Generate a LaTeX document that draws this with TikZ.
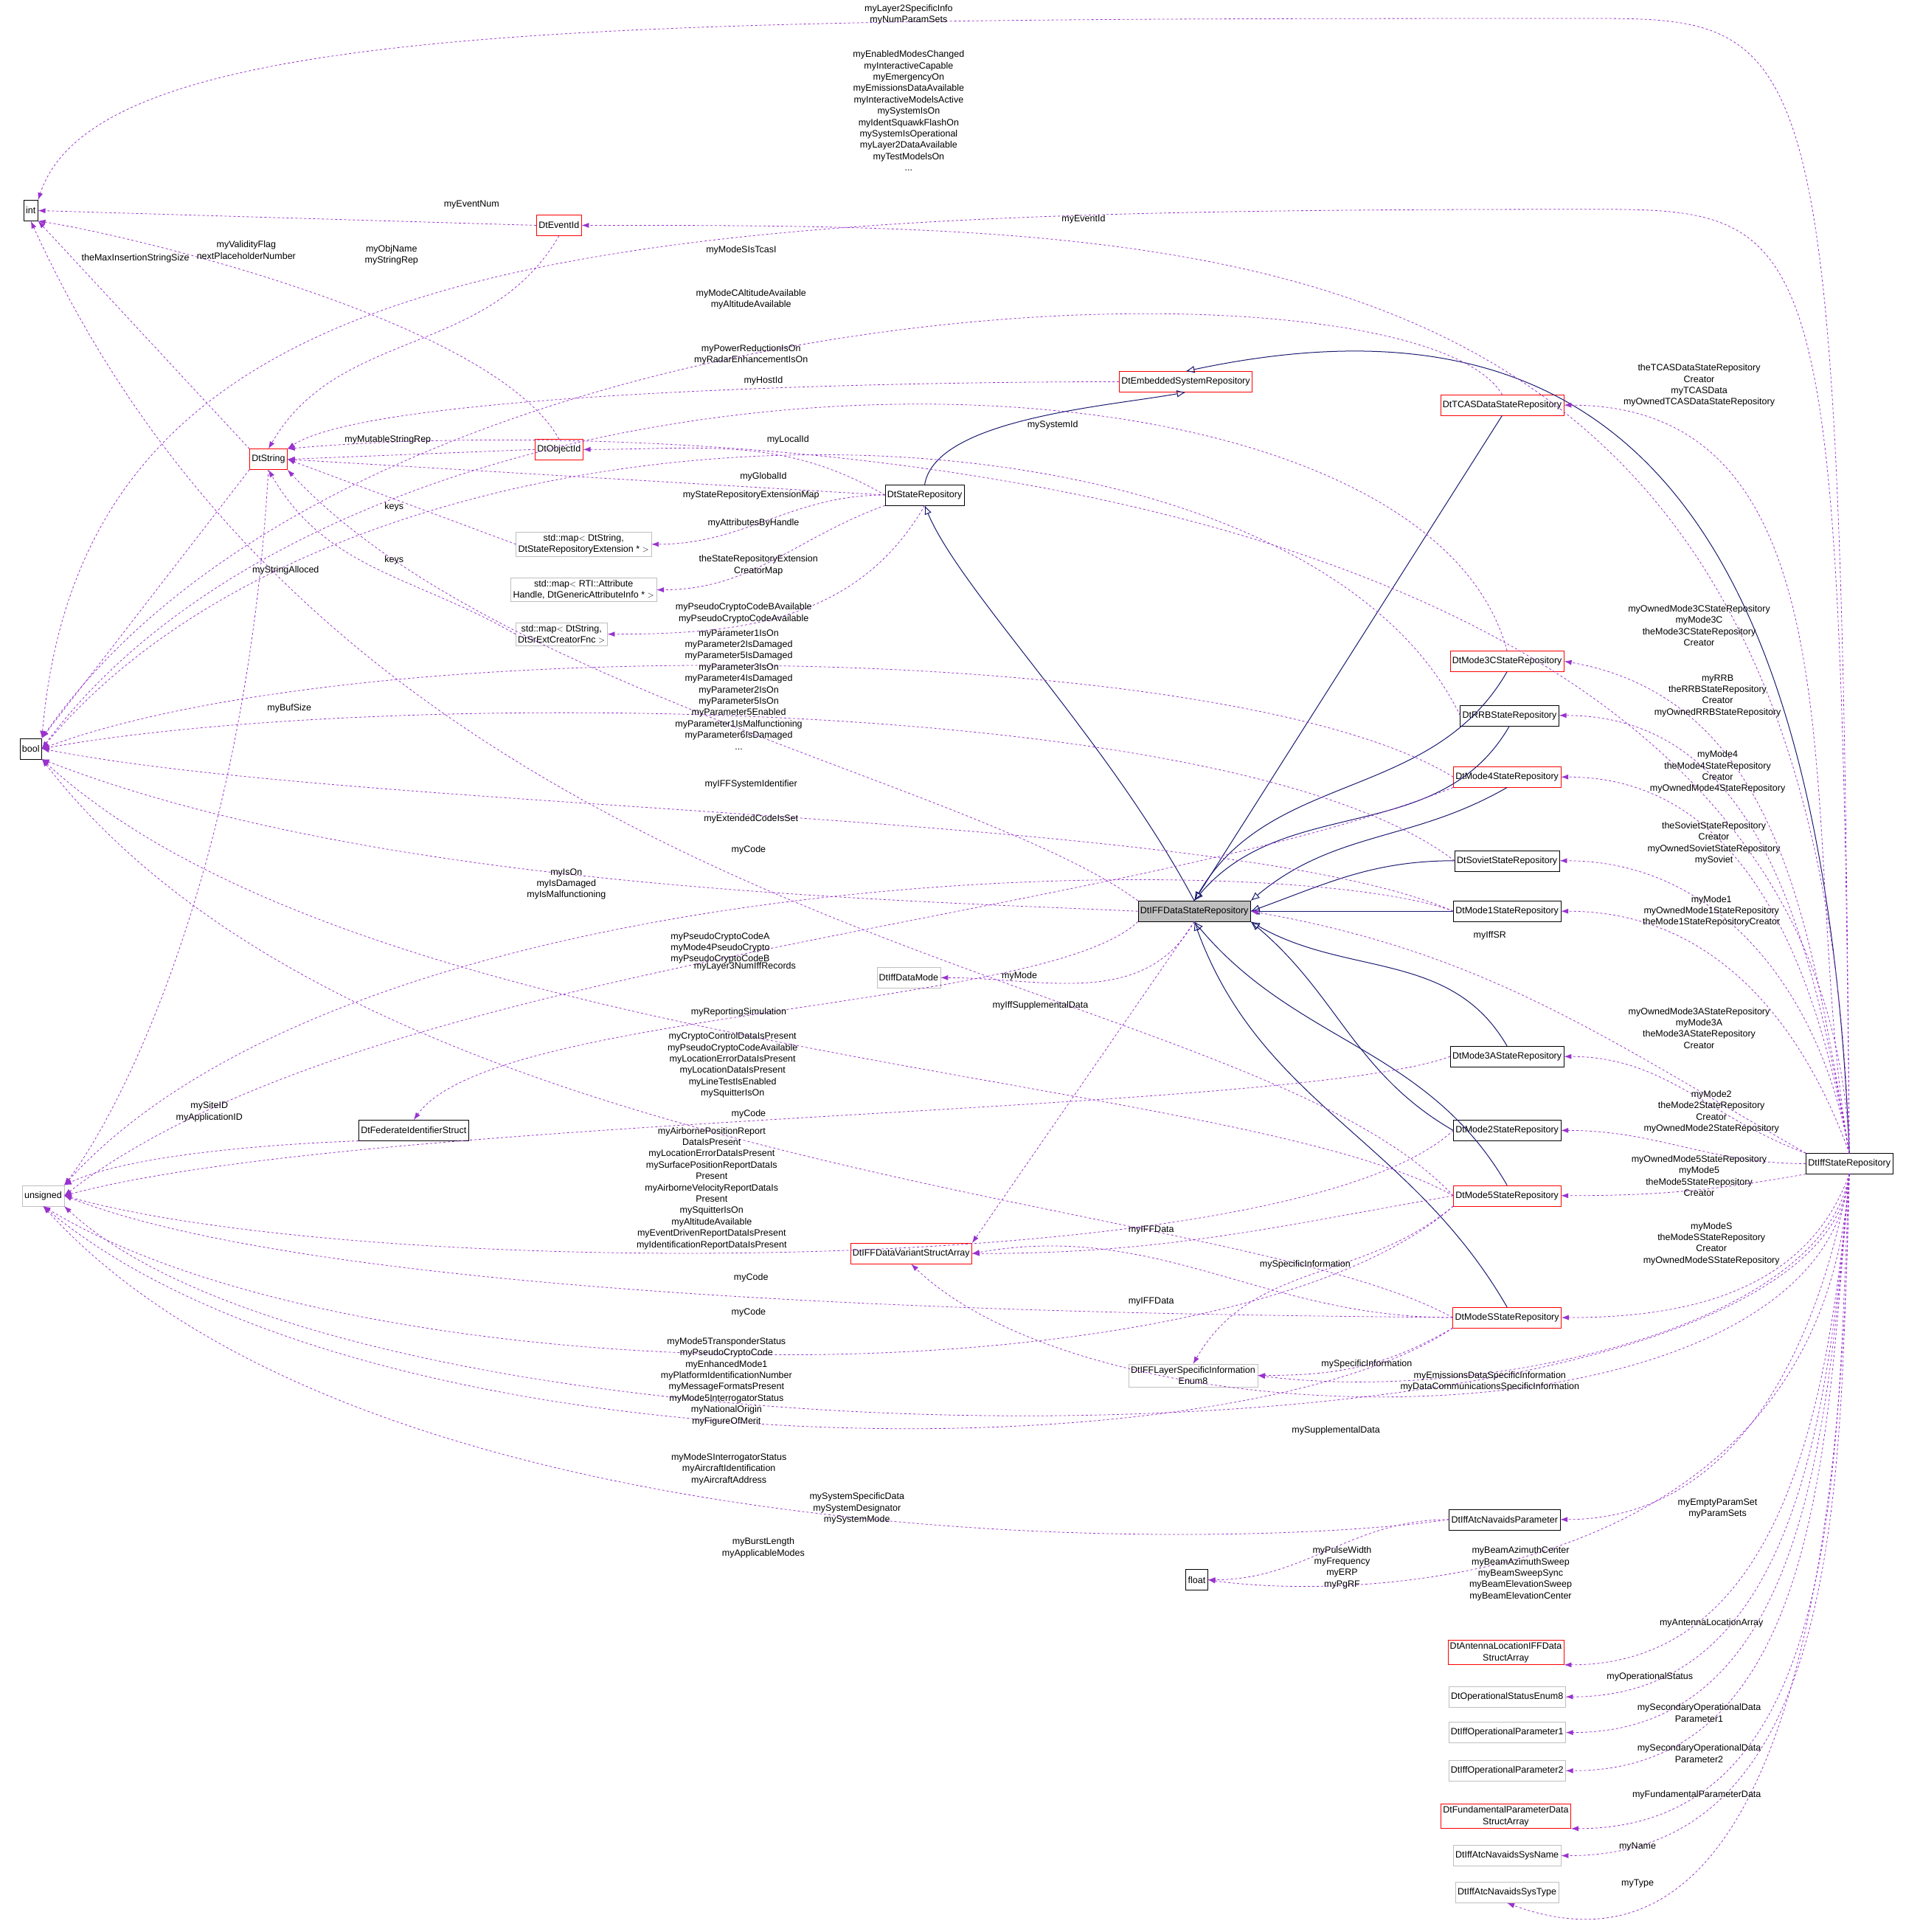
\documentclass[tikz,border=0pt]{standalone}
\usepackage{fontspec}
\setmainfont{Liberation Sans}
\usetikzlibrary{arrows.meta}
\definecolor{dep}{HTML}{9A32CD}
\definecolor{inh}{HTML}{191970}
\definecolor{gb}{HTML}{BFBFBF}
\newcommand\lab[3]{\node[lbl] (#1) at (#2) {#3};}
\begin{document}
\begin{tikzpicture}[x=1.669pt,y=-1.669pt,
  every node/.style={font=\fontsize{12.5}{15.4}\selectfont},
  box/.style={draw=black,fill=white,inner sep=3pt,minimum height=28pt,align=center},
  rbox/.style={box,draw=red},
  gbox/.style={box,draw=gb},
  lbl/.style={align=center,inner sep=0pt},
  dp/.style={draw=dep,dashed,line width=0.8pt,-{Latex[length=10pt,width=7pt]}},
  ih/.style={draw=inh,line width=1pt,-{Latex[open,length=12pt,width=10pt]}}]
\useasboundingbox (0,0) rectangle (1548,1569);
% nodes
\node[box] (int) at (25,171) {int};
\node[box] (bool) at (25,608) {bool};
\node[gbox] (uns) at (35,971) {unsigned};
\node[box] (float) at (972,1283) {float};
\node[rbox] (str) at (218,373) {DtString};
\node[rbox] (evt) at (454,183) {DtEventId};
\node[rbox] (oid) at (454,365) {DtObjectId};
\node[rbox] (emb) at (963,310) {DtEmbeddedSystemRepository};
\node[box] (sr) at (751,402) {DtStateRepository};
\node[gbox] (m1) at (474,442) {std::map$<$ DtString,\\DtStateRepositoryExtension * $>$};
\node[gbox] (m2) at (474,479) {std::map$<$ RTI::Attribute\\Handle, DtGenericAttributeInfo * $>$};
\node[gbox] (m3) at (456,515) {std::map$<$ DtString,\\DtSrExtCreatorFnc $>$};
\node[rbox] (tcas) at (1220,329) {DtTCASDataStateRepository};
\node[rbox] (m3c) at (1224,537) {DtMode3CStateRepository};
\node[box] (rrb) at (1226,581) {DtRRBStateRepository};
\node[rbox] (m4) at (1224,631) {DtMode4StateRepository};
\node[box] (sov) at (1224,699) {DtSovietStateRepository};
\node[box] (mo1) at (1224,740) {DtMode1StateRepository};
\node[box,fill=gb] (ifd) at (970,740) {DtIFFDataStateRepository};
\node[gbox] (idm) at (738,794) {DtIffDataMode};
\node[box] (m3a) at (1224,858) {DtMode3AStateRepository};
\node[box] (mo2) at (1224,918) {DtMode2StateRepository};
\node[rbox] (m5) at (1224,971) {DtMode5StateRepository};
\node[rbox] (ms) at (1224,1070) {DtModeSStateRepository};
\node[rbox] (var) at (740,1018) {DtIFFDataVariantStructArray};
\node[box] (fed) at (336,918) {DtFederateIdentifierStruct};
\node[gbox] (lay) at (969,1117) {DtIFFLayerSpecificInformation\\Enum8};
\node[box] (iff) at (1502,945) {DtIffStateRepository};
\node[box] (atc) at (1222,1234) {DtIffAtcNavaidsParameter};
\node[rbox] (ant) at (1223,1342) {DtAntennaLocationIFFData\\StructArray};
\node[gbox] (ops) at (1224,1378) {DtOperationalStatusEnum8};
\node[gbox] (op1) at (1224,1407) {DtIffOperationalParameter1};
\node[gbox] (op2) at (1224,1438) {DtIffOperationalParameter2};
\node[rbox] (fpd) at (1223,1475) {DtFundamentalParameterData\\StructArray};
\node[gbox] (sn) at (1224,1507) {DtIffAtcNavaidsSysName};
\node[gbox] (st) at (1224,1537) {DtIffAtcNavaidsSysType};
% inheritance
\draw[ih] (iff.north) .. controls (1480,400) and (1300,230) .. (emb.north);
\draw[ih] (sr.north) .. controls (760,340) and (900,330) .. (emb.south);
\draw[ih] (ifd.north) .. controls (900,600) and (780,480) .. (sr.south);
\draw[ih] (tcas.south) -- (ifd.north);
\draw[ih] (m3c.south) to[out=-120,in=60] (ifd.north);
\draw[ih] (rrb.south) to[out=-120,in=50] (ifd.north);
\draw[ih] (m4.south) to[out=-150,in=40] (ifd.north east);
\draw[ih] (sov.west) to[out=180,in=20] (ifd.east);
\draw[ih] (mo1.west) -- (ifd.east);
\draw[ih] (m3a.north) to[out=120,in=-30] (ifd.south east);
\draw[ih] (mo2.west) to[out=150,in=-40] (ifd.south east);
\draw[ih] (m5.north) to[out=120,in=-50] (ifd.south);
\draw[ih] (ms.north) to[out=120,in=-70] (ifd.south);
% deps from iff
\draw[dp] (iff.north) .. controls (1495,40) and (1480,15) .. (1300,15) .. controls (500,15) and (80,15) .. (int.north east);
\draw[dp] (iff.north) .. controls (1495,190) and (1480,170) .. (1300,170) .. controls (500,170) and (70,190) .. (bool.north east);
\draw[dp] (iff.north) .. controls (1480,180) and (1000,183) .. (evt.east);
\draw[dp] (iff.north) .. controls (1480,350) and (500,340) .. (str.north east);
\draw[dp] (iff.north) to[out=100,in=0] (tcas.east);
\draw[dp] (iff.north) to[out=100,in=-10] (m3c.east);
\draw[dp] (iff.north) to[out=100,in=0] (rrb.east);
\draw[dp] (iff.north) to[out=100,in=0] (m4.east);
\draw[dp] (iff.north) to[out=100,in=0] (sov.east);
\draw[dp] (iff.north) to[out=110,in=0] (mo1.east);
\draw[dp] (iff.north west) to[out=150,in=-10] (ifd.east);
\draw[dp] (iff.north west) to[out=160,in=0] (m3a.east);
\draw[dp] (iff.west) to[out=180,in=0] (mo2.east);
\draw[dp] (iff.south west) to[out=190,in=0] (m5.east);
\draw[dp] (iff.south) to[out=-110,in=0] (ms.east);
\draw[dp] (iff.south) .. controls (1480,1080) and (1200,1140) .. (lay.east);
\draw[dp] (iff.south) .. controls (1480,1180) and (900,1180) .. (var.south);
\draw[dp] (iff.south) .. controls (1480,1210) and (300,1210) .. (uns.south east);
\draw[dp] (iff.south) to[out=-100,in=0] (atc.east);
\draw[dp] (iff.south) .. controls (1480,1290) and (1100,1300) .. (float.east);
\draw[dp] (iff.south) to[out=-95,in=0] (ant.south east);
\draw[dp] (iff.south) to[out=-95,in=0] (ops.east);
\draw[dp] (iff.south) to[out=-95,in=0] (op1.east);
\draw[dp] (iff.south) to[out=-95,in=0] (op2.east);
\draw[dp] (iff.south) to[out=-93,in=0] (fpd.south east);
\draw[dp] (iff.south) to[out=-92,in=0] (sn.east);
\draw[dp] (iff.south) to[out=-91,in=-20] (st.south);
% other deps
\draw[dp] (evt.west) -- (int.east);
\draw[dp] (evt.south) to[out=-120,in=60] (str.north);
\draw[dp] (oid.north) .. controls (400,260) and (100,190) .. (int.south east);
\draw[dp] (tcas.north) .. controls (1150,200) and (300,220) .. (bool.north east);
\draw[dp] (oid.west) -- (str.east);
\draw[dp] (m3c.north) .. controls (1150,250) and (300,250) .. (bool.east);
\draw[dp] (rrb.west) .. controls (1050,300) and (300,290) .. (bool.east);
\draw[dp] (emb.west) .. controls (700,310) and (300,320) .. (str.north east);
\draw[dp] (sr.west) to[out=150,in=0] (oid.east);
\draw[dp] (sr.west) -- (str.east);
\draw[dp] (sr.west) to[out=180,in=0] (m1.east);
\draw[dp] (sr.south west) to[out=200,in=0] (m2.east);
\draw[dp] (sr.south) to[out=-120,in=0] (m3.east);
\draw[dp] (m1.west) -- (str.east);
\draw[dp] (m3.west) to[out=150,in=-60] (str.south);
\draw[dp] (str.south west) -- (bool.north east);
\draw[dp] (str.south) .. controls (200,700) and (100,900) .. (uns.north east);
\draw[dp] (str.north west) -- (int.south east);
\draw[dp] (m4.west) .. controls (1000,520) and (300,510) .. (bool.east);
\draw[dp] (sov.west) .. controls (1000,560) and (300,560) .. (bool.east);
\draw[dp] (ifd.north west) .. controls (800,640) and (400,560) .. (str.south east);
\draw[dp] (mo1.west) .. controls (1000,660) and (300,660) .. (bool.east);
\draw[dp] (mo1.west) .. controls (1050,690) and (300,690) .. (uns.north east);
\draw[dp] (ifd.west) .. controls (700,730) and (300,720) .. (bool.south east);
\draw[dp] (m4.south west) .. controls (900,750) and (300,780) .. (uns.east);
\draw[dp] (m5.west) .. controls (1000,780) and (300,780) .. (int.south);
\draw[dp] (ifd.south) to[out=-120,in=0] (idm.east);
\draw[dp] (ifd.south west) .. controls (850,820) and (400,820) .. (fed.north);
\draw[dp] (ifd.south) -- (var.north east);
\draw[dp] (m5.west) .. controls (1000,870) and (300,860) .. (bool.south east);
\draw[dp] (m3a.west) .. controls (1050,905) and (300,905) .. (uns.east);
\draw[dp] (fed.south west) .. controls (200,930) and (100,940) .. (uns.north east);
\draw[dp] (ms.west) .. controls (1000,970) and (300,960) .. (bool.south east);
\draw[dp] (m5.west) to[out=190,in=0] (var.east);
\draw[dp] (ms.west) to[out=180,in=10] (var.east);
\draw[dp] (m5.south west) to[out=-140,in=60] (lay.north);
\draw[dp] (ms.south west) to[out=-150,in=0] (lay.east);
\draw[dp] (mo2.west) .. controls (1050,1040) and (300,1040) .. (uns.east);
\draw[dp] (ms.west) .. controls (1050,1068) and (300,1068) .. (uns.east);
\draw[dp] (m5.south west) .. controls (1000,1140) and (300,1140) .. (uns.south);
\draw[dp] (ms.south west) .. controls (1000,1200) and (300,1200) .. (uns.south);
\draw[dp] (atc.west) .. controls (1000,1260) and (300,1270) .. (uns.south);
\draw[dp] (atc.west) to[out=180,in=0] (float.east);
% labels
\lab{a1}{738,12}{myLayer2SpecificInfo\\myNumParamSets}
\lab{a2}{738,90}{myEnabledModesChanged\\myInteractiveCapable\\myEmergencyOn\\myEmissionsDataAvailable\\myInteractiveModelsActive\\mySystemIsOn\\myIdentSquawkFlashOn\\mySystemIsOperational\\myLayer2DataAvailable\\myTestModelsOn\\...}
\lab{a3}{880,178}{myEventId}
\lab{a4}{855,345}{mySystemId}
\lab{a6}{1380,313}{theTCASDataStateRepository\\Creator\\myTCASData\\myOwnedTCASDataStateRepository}
\lab{a7}{1380,508}{myOwnedMode3CStateRepository\\myMode3C\\theMode3CStateRepository\\Creator}
\lab{a8}{1395,565}{myRRB\\theRRBStateRepository\\Creator\\myOwnedRRBStateRepository}
\lab{a9}{1395,627}{myMode4\\theMode4StateRepository\\Creator\\myOwnedMode4StateRepository}
\lab{a10}{1392,685}{theSovietStateRepository\\Creator\\myOwnedSovietStateRepository\\mySoviet}
\lab{a11}{1390,740}{myMode1\\myOwnedMode1StateRepository\\theMode1StateRepositoryCreator}
\lab{a12}{1210,760}{myIffSR}
\lab{a13}{1380,835}{myOwnedMode3AStateRepository\\myMode3A\\theMode3AStateRepository\\Creator}
\lab{a14}{1390,903}{myMode2\\theMode2StateRepository\\Creator\\myOwnedMode2StateRepository}
\lab{a15}{1380,955}{myOwnedMode5StateRepository\\myMode5\\theMode5StateRepository\\Creator}
\lab{a16}{1390,1010}{myModeS\\theModeSStateRepository\\Creator\\myOwnedModeSStateRepository}
\lab{a17}{1210,1122}{myEmissionsDataSpecificInformation\\myDataCommunicationsSpecificInformation}
\lab{a18}{1085,1162}{mySupplementalData}
\lab{a19}{696,1225}{mySystemSpecificData\\mySystemDesignator\\mySystemMode}
\lab{a20}{1395,1225}{myEmptyParamSet\\myParamSets}
\lab{a21}{1235,1278}{myBeamAzimuthCenter\\myBeamAzimuthSweep\\myBeamSweepSync\\myBeamElevationSweep\\myBeamElevationCenter}
\lab{a22}{1390,1318}{myAntennaLocationArray}
\lab{a23}{1340,1362}{myOperationalStatus}
\lab{a24}{1380,1391}{mySecondaryOperationalData\\Parameter1}
\lab{a25}{1380,1424}{mySecondaryOperationalData\\Parameter2}
\lab{a26}{1378,1458}{myFundamentalParameterData}
\lab{a27}{1330,1500}{myName}
\lab{a28}{1330,1530}{myType}
\lab{b1}{383,166}{myEventNum}
\lab{b2}{318,207}{myObjName\\myStringRep}
\lab{b3}{200,203}{myValidityFlag\\nextPlaceholderNumber}
\lab{b4}{110,210}{theMaxInsertionStringSize}
\lab{b5}{602,203}{myModeSIsTcasI}
\lab{b6}{315,357}{myMutableStringRep}
\lab{b7}{610,243}{myModeCAltitudeAvailable\\myAltitudeAvailable}
\lab{b8}{610,288}{myPowerReductionIsOn\\myRadarEnhancementIsOn}
\lab{b9}{620,309}{myHostId}
\lab{b10}{640,357}{myLocalId}
\lab{b11}{620,387}{myGlobalId}
\lab{b12}{610,402}{myStateRepositoryExtensionMap}
\lab{b13}{612,425}{myAttributesByHandle}
\lab{b14}{616,459}{theStateRepositoryExtension\\CreatorMap}
\lab{b15}{320,412}{keys}
\lab{b16}{320,455}{keys}
\lab{b17}{232,463}{myStringAlloced}
\lab{b18}{235,575}{myBufSize}
\lab{b19}{604,498}{myPseudoCryptoCodeBAvailable\\myPseudoCryptoCodeAvailable}
\lab{b20}{600,560}{myParameter1IsOn\\myParameter2IsDamaged\\myParameter5IsDamaged\\myParameter3IsOn\\myParameter4IsDamaged\\myParameter2IsOn\\myParameter5IsOn\\myParameter5Enabled\\myParameter1IsMalfunctioning\\myParameter6IsDamaged\\...}
\lab{b21}{610,637}{myIFFSystemIdentifier}
\lab{b22}{610,665}{myExtendedCodeIsSet}
\lab{b23}{608,690}{myCode}
\lab{b24}{460,718}{myIsOn\\myIsDamaged\\myIsMalfunctioning}
\lab{b25}{585,770}{myPseudoCryptoCodeA\\myMode4PseudoCrypto\\myPseudoCryptoCodeB}
\lab{b26}{605,785}{myLayer3NumIffRecords}
\lab{b27}{828,793}{myMode}
\lab{b28}{600,822}{myReportingSimulation}
\lab{b29}{845,817}{myIffSupplementalData}
\lab{b30}{595,865}{myCryptoControlDataIsPresent\\myPseudoCryptoCodeAvailable\\myLocationErrorDataIsPresent\\myLocationDataIsPresent\\myLineTestIsEnabled\\mySquitterIsOn}
\lab{b31}{608,905}{myCode}
\lab{b32}{170,903}{mySiteID\\myApplicationID}
\lab{b33}{578,965}{myAirbornePositionReport\\DataIsPresent\\myLocationErrorDataIsPresent\\mySurfacePositionReportDataIs\\Present\\myAirborneVelocityReportDataIs\\Present\\mySquitterIsOn\\myAltitudeAvailable\\myEventDrivenReportDataIsPresent\\myIdentificationReportDataIsPresent}
\lab{b34}{935,999}{myIFFData}
\lab{b35}{935,1057}{myIFFData}
\lab{b36}{1060,1027}{mySpecificInformation}
\lab{b37}{1110,1108}{mySpecificInformation}
\lab{b38}{610,1038}{myCode}
\lab{b39}{608,1066}{myCode}
\lab{b40}{590,1122}{myMode5TransponderStatus\\myPseudoCryptoCode\\myEnhancedMode1\\myPlatformIdentificationNumber\\myMessageFormatsPresent\\myMode5InterrogatorStatus\\myNationalOrigin\\myFigureOfMerit}
\lab{b41}{592,1193}{myModeSInterrogatorStatus\\myAircraftIdentification\\myAircraftAddress}
\lab{b42}{620,1257}{myBurstLength\\myApplicableModes}
\lab{b43}{1090,1273}{myPulseWidth\\myFrequency\\myERP\\myPgRF}
\end{tikzpicture}
\end{document}
